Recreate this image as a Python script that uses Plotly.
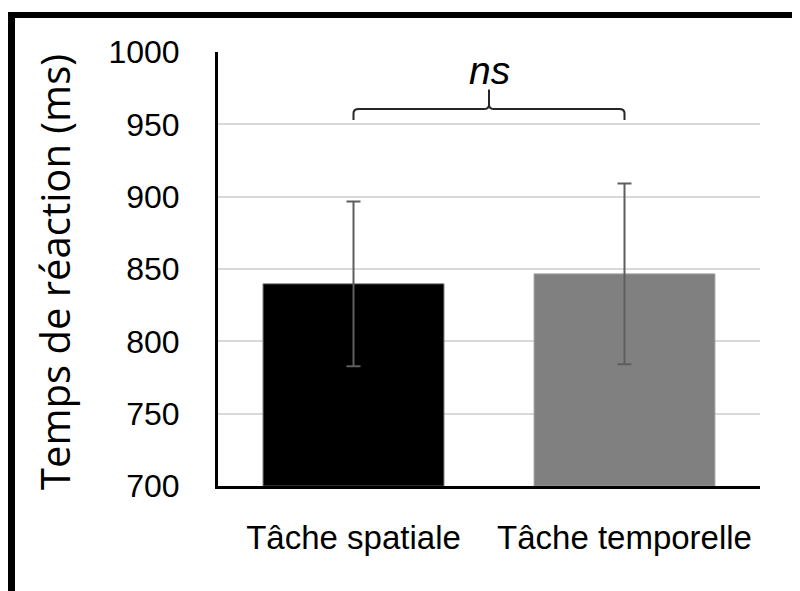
import plotly.graph_objects as go

categories = ["Tâche spatiale", "Tâche temporelle"]
means = [839.7, 846.6]
errors = [57.0, 62.5]
bar_colors = ["#000000", "#808080"]
y_ticks = [700, 750, 800, 850, 900, 950, 1000]
y_title = "Temps de réaction (ms)"
sig_label = "ns"
bracket_y = 960.6
bracket_end_y = 953.0
bracket_tick_y = 974.0
label_y = 987.0

# page body has an 8px margin: target screen px -> figure px
OFF = 8
W, H = 800, 591
L, T = 218 - OFF, 52 - OFF
R = W - (760 - OFF)
B = H - (486 - OFF)
pw, ph = W - L - R, H - T - B

def sx(px):
    return (px - OFF - L) / pw

def sy(py):
    return (H - B - (py - OFF)) / ph

xs = list(range(len(categories)))

fig = go.Figure()
fig.add_trace(go.Bar(
    x=xs, y=[m - 700 for m in means], base=700,
    width=0.667,
    marker=dict(color=bar_colors, line=dict(color=["#5a5a5a", "#9a9a9a"], width=1)),
    error_y=dict(type="data", array=errors, color="#5e5e5e", thickness=2, width=7),
    showlegend=False,
))

# bracket
x0, x1 = xs[0], xs[1]
xm = (x0 + x1) / 2
dx = 0.02
dy = 3.0
path = (f"M {x0},{bracket_end_y} L {x0},{bracket_y - dy} Q {x0},{bracket_y} {x0 + dx},{bracket_y} "
        f"L {xm - dx},{bracket_y} Q {xm},{bracket_y} {xm},{bracket_y + dy} L {xm},{bracket_tick_y} "
        f"M {xm},{bracket_y + dy} Q {xm},{bracket_y} {xm + dx},{bracket_y} "
        f"L {x1 - dx},{bracket_y} Q {x1},{bracket_y} {x1},{bracket_y - dy} L {x1},{bracket_end_y}")
fig.add_shape(type="path", path=path, xref="x", yref="y",
              line=dict(color="#262626", width=2))

fig.add_annotation(x=xm, y=label_y, xref="x", yref="y", text=f"<i>{sig_label}</i>",
                   showarrow=False, font=dict(family="Liberation Sans", size=39, color="#000000"))

fig.add_annotation(x=sx(54), y=sy(272), xref="paper", yref="paper",
                   text=y_title, textangle=-90, showarrow=False,
                   xanchor="center", yanchor="middle",
                   font=dict(family="Open Sans", size=40, color="#000000"))

# frame (top and left borders)
fig.add_shape(type="line", xref="paper", yref="paper",
              x0=sx(11.5), x1=sx(820),
              y0=sy(15), y1=sy(15),
              line=dict(color="#000000", width=6))
fig.add_shape(type="line", xref="paper", yref="paper",
              x0=sx(11.5), x1=sx(11.5),
              y0=sy(12), y1=sy(620),
              line=dict(color="#000000", width=7))

fig.update_layout(
    width=W, height=H,
    margin=dict(l=L, r=R, t=T, b=B, pad=0),
    paper_bgcolor="white", plot_bgcolor="white",
    font=dict(family="Liberation Sans", size=32, color="#000000"),
    xaxis=dict(range=[-0.5, 1.5], tickvals=xs, ticktext=categories,
               showgrid=False, zeroline=False,
               showline=True, linecolor="#000000", linewidth=3,
               ticks="", ticklabelstandoff=20,
               tickfont=dict(family="Liberation Sans", size=33, color="#000000")),
    yaxis=dict(range=[700, 1000], tickvals=y_ticks,
               showgrid=True, gridcolor="#d9d9d9", gridwidth=1.5,
               zeroline=False, showline=True, linecolor="#000000", linewidth=3,
               ticks="", ticklabelstandoff=29,
               tickfont=dict(family="Liberation Sans", size=32, color="#000000")),
)

fig.write_html("out.html")
